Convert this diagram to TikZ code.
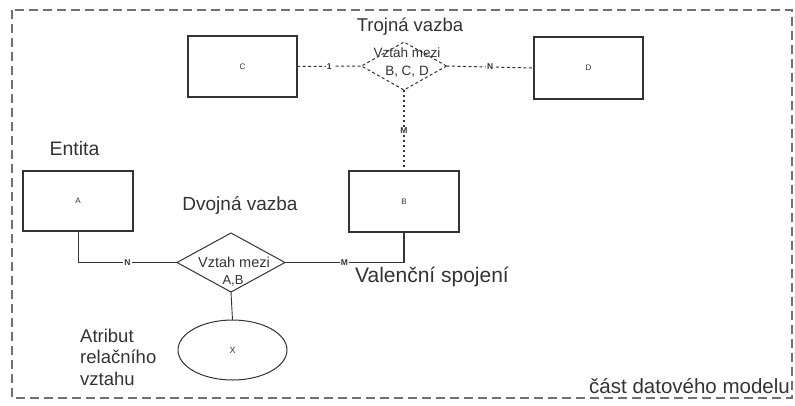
\documentclass[tikz,border=0pt]{standalone}
\usepackage{fontspec}
\setmainfont{Liberation Sans}
\usetikzlibrary{shapes.geometric}
\definecolor{ink}{HTML}{333333}
\definecolor{frame}{HTML}{707070}
\tikzset{
  ent/.style={draw=ink, line width=1.2pt, rectangle, inner sep=0pt, outer sep=0pt, font=\fontsize{8}{9}\selectfont, text=ink},
  rel/.style={draw=ink, line width=1pt, diamond, inner sep=0pt, outer sep=0pt},
  attr/.style={draw=ink, line width=1pt, ellipse, inner sep=0pt, outer sep=0pt, font=\fontsize{9}{10}\selectfont, text=ink},
  card/.style={fill=white, inner sep=1pt, font=\fontsize{8.5}{9}\selectfont\bfseries, text=ink},
  big/.style={font=\fontsize{18.5}{22}\selectfont, text=ink, inner sep=0pt},
  inrel/.style={font=\fontsize{14.5}{16}\selectfont, text=ink, inner sep=0pt},
  conn/.style={draw=ink, line width=0.9pt},
  dconn/.style={draw=ink, line width=1pt, dash pattern=on 3pt off 2.5pt},
}
\begin{document}
\begin{tikzpicture}[x=1pt,y=-1pt]
\useasboundingbox (0,0) rectangle (795,405);
\draw[frame, line width=2pt, dash pattern=on 9pt off 5pt] (12,10) rectangle (792,398);

% entities
\node[ent, minimum width=109, minimum height=61] (C) at (242.5,66.5) {C};
\node[ent, minimum width=109, minimum height=62] (D) at (588.5,68) {D};
\node[ent, minimum width=110, minimum height=60] (A) at (78,201) {A};
\node[ent, minimum width=110, minimum height=61] (B) at (404,201.5) {B};

% relationships
\node[rel, minimum width=108, minimum height=59] (R2) at (231,262.5) {};
\node[rel, dash pattern=on 3pt off 2.5pt, minimum width=85, minimum height=48] (R3) at (404,66) {};
\node[attr, minimum width=109, minimum height=60] (X) at (232.5,350) {X};

\node[inrel] (r2a) at (234,262) {Vztah mezi};
\node[inrel, font=\fontsize{13}{15}\selectfont] (r2b) at (233,281) {A,B};
\node[inrel, font=\fontsize{13.5}{15}\selectfont] (r3a) at (407,53) {Vztah mezi};
\node[inrel, font=\fontsize{13.5}{15}\selectfont] (r3b) at (407,72) {B, C, D};

% connectors
\draw[conn] (A.south) |- (R2.west) node[card, pos=0.75] {N};
\draw[conn, line width=1.6pt] (B.south) -- (B.south |- R2.east);
\draw[conn] (B.south |- R2.east) -- (R2.east) node[card, midway] {M};
\draw[conn] (R2.south) -- (X.north);
\draw[dconn] (C.east) -- (R3.west) node[card, midway] {1};
\draw[dconn] (R3.east) -- (D.west) node[card, midway] {N};
\draw[draw=ink, line width=2pt, dash pattern=on 2pt off 3pt] (R3.south) -- (B.north) node[card, midway] {M};

% texts
\node[big] (t1) at (410,27) {Trojná vazba};
\node[big, font=\fontsize{19.5}{22}\selectfont] (t2) at (74.5,149) {Entita};
\node[big, font=\fontsize{19}{22}\selectfont] (t3) at (240,205) {Dvojná vazba};
\node[big, font=\fontsize{21}{24}\selectfont] (t4) at (432,277) {Valenční spojení};
\node[big, anchor=west, align=left, font=\fontsize{18.5}{21.5}\selectfont] (t5) at (80,357) {Atribut\\relačního\\vztahu};
\node[big, font=\fontsize{20.5}{22}\selectfont, anchor=east] (t6) at (790,386) {část datového modelu};
\end{tikzpicture}
\end{document}
